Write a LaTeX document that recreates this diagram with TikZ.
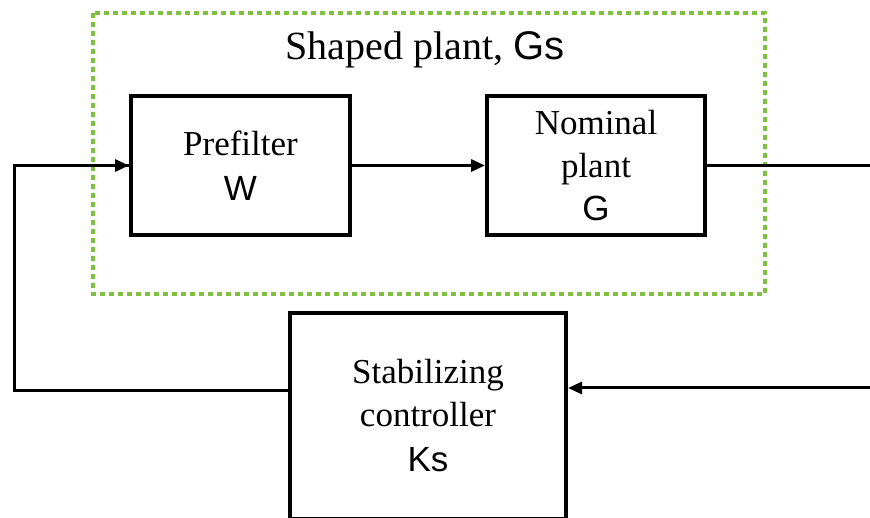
\documentclass[tikz,border=0pt]{standalone}
\usepackage{fontspec}
\setmainfont{Liberation Serif}
\newfontfamily\arialfont{Liberation Sans}
\usetikzlibrary{arrows.meta,positioning}
\definecolor{shapegreen}{RGB}{128,192,64}
\begin{document}
\begin{tikzpicture}[x=1pt, y=-1pt, >={Triangle[length=14pt,width=12pt]},
    blockbox/.style={draw, line width=4pt, align=center, inner sep=0pt,
        font=\fontsize{35}{43}\selectfont},
    sig/.style={line width=3pt}]
        \useasboundingbox (0,0) rectangle (870,518);

        % shaped plant frame
        \draw[shapegreen, line width=4.5pt, dash pattern=on 5pt off 4pt] (93,13) rectangle (765,294);
        \node[font=\fontsize{40}{48}\selectfont] (title) at (425,50) {Shaped plant, {\arialfont Gs}};

        \node[blockbox, minimum width=219pt, minimum height=139pt] (pre) at (240.5,165.5)
            {Prefilter\\[2pt] {\arialfont W}};
        \node[blockbox, minimum width=218pt, minimum height=139pt] (nom) at (596,165.5)
            {Nominal\\ plant\\ {\arialfont G}};
        \node[blockbox, minimum width=276pt, minimum height=206pt] (ctrl) at (428,416)
            {Stabilizing\\ controller\\[2pt] {\arialfont Ks}};

        \coordinate (fb) at (14,391);
        \coordinate (out) at (870,165.5);
        \coordinate (in) at (870,388);

        \draw[sig] (ctrl.west |- fb) -- (fb) |- (pre.west);
        \draw[sig, ->] (fb |- pre.west) -- (pre.west);
        \draw[sig, ->] (pre.east) -- (nom.west);
        \draw[sig] (nom.east) -- (out);
        \draw[sig, ->] (in) -- (ctrl.east |- in);
    \end{tikzpicture}
\end{document}
